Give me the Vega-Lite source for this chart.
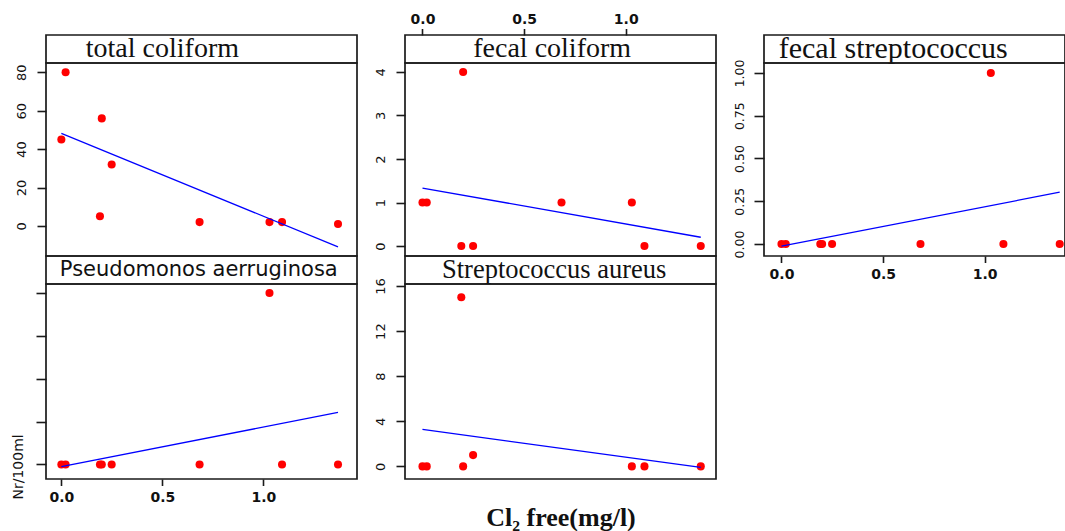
{
  "$schema": "https://vega.github.io/schema/vega-lite/v6.json",
  "background": "white",
  "autosize": {"type": "pad"},
  "padding": {"left": 10, "top": 11, "right": 0, "bottom": 4},
  "config": {
    "font": "DejaVu Sans",
    "view": {"stroke": "#1a1a1a", "strokeWidth": 1.7},
    "axis": {"grid": false, "domain": false, "labelColor": "#111", "tickColor": "#1a1a1a", "tickWidth": 1.6, "titleColor": "#111"}
  },
  "datasets": {
    "obs": [
      {"panel": "total coliform", "cl2": 0, "count": 45},
      {"panel": "total coliform", "cl2": 0.021, "count": 80},
      {"panel": "total coliform", "cl2": 0.191, "count": 5},
      {"panel": "total coliform", "cl2": 0.2, "count": 56},
      {"panel": "total coliform", "cl2": 0.249, "count": 32},
      {"panel": "total coliform", "cl2": 0.684, "count": 2},
      {"panel": "total coliform", "cl2": 1.03, "count": 2},
      {"panel": "total coliform", "cl2": 1.092, "count": 2},
      {"panel": "total coliform", "cl2": 1.369, "count": 1},
      {"panel": "fecal coliform", "cl2": 0, "count": 1},
      {"panel": "fecal coliform", "cl2": 0.021, "count": 1},
      {"panel": "fecal coliform", "cl2": 0.191, "count": 0},
      {"panel": "fecal coliform", "cl2": 0.2, "count": 4},
      {"panel": "fecal coliform", "cl2": 0.249, "count": 0},
      {"panel": "fecal coliform", "cl2": 0.684, "count": 1},
      {"panel": "fecal coliform", "cl2": 1.03, "count": 1},
      {"panel": "fecal coliform", "cl2": 1.092, "count": 0},
      {"panel": "fecal coliform", "cl2": 1.369, "count": 0},
      {"panel": "fecal streptococcus", "cl2": 0, "count": 0},
      {"panel": "fecal streptococcus", "cl2": 0.021, "count": 0},
      {"panel": "fecal streptococcus", "cl2": 0.191, "count": 0},
      {"panel": "fecal streptococcus", "cl2": 0.2, "count": 0},
      {"panel": "fecal streptococcus", "cl2": 0.249, "count": 0},
      {"panel": "fecal streptococcus", "cl2": 0.684, "count": 0},
      {"panel": "fecal streptococcus", "cl2": 1.03, "count": 1},
      {"panel": "fecal streptococcus", "cl2": 1.092, "count": 0},
      {"panel": "fecal streptococcus", "cl2": 1.369, "count": 0},
      {"panel": "Pseudomonos aerruginosa", "cl2": 0, "count": 0},
      {"panel": "Pseudomonos aerruginosa", "cl2": 0.021, "count": 0},
      {"panel": "Pseudomonos aerruginosa", "cl2": 0.191, "count": 0},
      {"panel": "Pseudomonos aerruginosa", "cl2": 0.2, "count": 0},
      {"panel": "Pseudomonos aerruginosa", "cl2": 0.249, "count": 0},
      {"panel": "Pseudomonos aerruginosa", "cl2": 0.684, "count": 0},
      {"panel": "Pseudomonos aerruginosa", "cl2": 1.03, "count": 1},
      {"panel": "Pseudomonos aerruginosa", "cl2": 1.092, "count": 0},
      {"panel": "Pseudomonos aerruginosa", "cl2": 1.369, "count": 0},
      {"panel": "Streptococcus aureus", "cl2": 0, "count": 0},
      {"panel": "Streptococcus aureus", "cl2": 0.021, "count": 0},
      {"panel": "Streptococcus aureus", "cl2": 0.191, "count": 15},
      {"panel": "Streptococcus aureus", "cl2": 0.2, "count": 0},
      {"panel": "Streptococcus aureus", "cl2": 0.249, "count": 1},
      {"panel": "Streptococcus aureus", "cl2": 1.03, "count": 0},
      {"panel": "Streptococcus aureus", "cl2": 1.092, "count": 0},
      {"panel": "Streptococcus aureus", "cl2": 1.369, "count": 0}
    ],
    "strips": [
      {"label": "total coliform"},
      {"label": "fecal coliform"},
      {"label": "fecal streptococcus"},
      {"label": "Pseudomonos aerruginosa"},
      {"label": "Streptococcus aureus"}
    ]
  },
  "columns": 3,
  "align": "each",
  "bounds": "flush",
  "spacing": {"row": 0, "column": 48},
  "concat": [
    {
      "width": 311, "height": 28,
      "data": {"name": "strips"},
      "transform": [{"filter": "datum.label === 'total coliform'"}],
      "mark": {"type": "text", "font": "Liberation Serif", "fontSize": 28, "color": "#111", "baseline": "middle"},
      "encoding": {
        "x": {"datum": 0.5, "type": "quantitative", "scale": {"domain": [-0.076, 1.463], "nice": false, "zero": false}, "axis": null},
        "text": {"field": "label"}
      }
    },
    {
      "width": 311, "height": 28,
      "data": {"name": "strips"},
      "transform": [{"filter": "datum.label === 'fecal coliform'"}],
      "mark": {"type": "text", "font": "Liberation Serif", "fontSize": 28, "color": "#111", "baseline": "middle"},
      "encoding": {
        "x": {"datum": 0.638, "type": "quantitative", "scale": {"domain": [-0.086, 1.444], "nice": false, "zero": false},
          "axis": {"orient": "top", "values": [0, 0.5, 1], "format": ".1f", "title": null, "labelFont": "DejaVu Sans", "labelFontWeight": "bold", "labelFontSize": 14, "tickSize": 6.5, "labelPadding": 2}},
        "text": {"field": "label"}
      }
    },
    {
      "width": 301, "height": 28,
      "data": {"name": "strips"},
      "transform": [{"filter": "datum.label === 'fecal streptococcus'"}],
      "mark": {"type": "text", "font": "Liberation Serif", "fontSize": 30, "color": "#111", "baseline": "middle"},
      "encoding": {
        "x": {"datum": 0.55, "type": "quantitative", "scale": {"domain": [-0.086, 1.395], "nice": false, "zero": false}, "axis": null},
        "text": {"field": "label"}
      }
    },
    {
      "width": 311, "height": 193,
      "data": {"name": "obs"},
      "transform": [{"filter": "datum.panel === 'total coliform'"}],
      "layer": [
        {
          "mark": {"type": "point", "filled": true, "size": 65, "color": "#ff0000", "opacity": 1},
          "encoding": {
            "x": {"field": "cl2", "type": "quantitative", "scale": {"domain": [-0.076, 1.463], "nice": false, "zero": false}, "axis": null},
            "y": {"field": "count", "type": "quantitative", "scale": {"domain": [-15.65, 84.85], "nice": false, "zero": false},
              "axis": {"values": [0, 20, 40, 60, 80], "title": null, "labelAngle": 270, "labelAlign": "center", "labelBaseline": "bottom", "labelFont": "DejaVu Sans", "labelFontSize": 13, "tickSize": 9, "labelPadding": 9}}
          }
        },
        {
          "transform": [{"regression": "count", "on": "cl2"}],
          "mark": {"type": "line", "color": "#0000ff", "strokeWidth": 1.3},
          "encoding": {"x": {"field": "cl2", "type": "quantitative"}, "y": {"field": "count", "type": "quantitative"}}
        }
      ]
    },
    {
      "width": 311, "height": 193,
      "data": {"name": "obs"},
      "transform": [{"filter": "datum.panel === 'fecal coliform'"}],
      "layer": [
        {
          "mark": {"type": "point", "filled": true, "size": 65, "color": "#ff0000", "opacity": 1},
          "encoding": {
            "x": {"field": "cl2", "type": "quantitative", "scale": {"domain": [-0.086, 1.444], "nice": false, "zero": false}, "axis": null},
            "y": {"field": "count", "type": "quantitative", "scale": {"domain": [-0.229, 4.206], "nice": false, "zero": false},
              "axis": {"values": [0, 1, 2, 3, 4], "title": null, "labelAngle": 270, "labelAlign": "center", "labelBaseline": "bottom", "labelFont": "DejaVu Sans", "labelFontSize": 13, "tickSize": 9, "labelPadding": 9}}
          }
        },
        {
          "transform": [{"regression": "count", "on": "cl2"}],
          "mark": {"type": "line", "color": "#0000ff", "strokeWidth": 1.3},
          "encoding": {"x": {"field": "cl2", "type": "quantitative"}, "y": {"field": "count", "type": "quantitative"}}
        }
      ]
    },
    {
      "width": 301, "height": 193,
      "data": {"name": "obs"},
      "transform": [{"filter": "datum.panel === 'fecal streptococcus'"}],
      "layer": [
        {
          "mark": {"type": "point", "filled": true, "size": 65, "color": "#ff0000", "opacity": 1},
          "encoding": {
            "x": {"field": "cl2", "type": "quantitative", "scale": {"domain": [-0.086, 1.395], "nice": false, "zero": false},
              "axis": {"values": [0, 0.5, 1], "format": ".1f", "title": null, "labelFont": "DejaVu Sans", "labelFontWeight": "bold", "labelFontSize": 14, "tickSize": 6.5, "labelPadding": 5}},
            "y": {"field": "count", "type": "quantitative", "scale": {"domain": [-0.07, 1.058], "nice": false, "zero": false},
              "axis": {"values": [0, 0.25, 0.5, 0.75, 1], "format": ".2f", "title": null, "labelAngle": 270, "labelAlign": "center", "labelBaseline": "bottom", "labelFont": "DejaVu Sans", "labelFontSize": 12.5, "tickSize": 10, "labelPadding": 8}}
          }
        },
        {
          "transform": [{"regression": "count", "on": "cl2"}],
          "mark": {"type": "line", "color": "#0000ff", "strokeWidth": 1.3},
          "encoding": {"x": {"field": "cl2", "type": "quantitative"}, "y": {"field": "count", "type": "quantitative"}}
        }
      ]
    },
    {
      "width": 311, "height": 28,
      "data": {"name": "strips"},
      "transform": [{"filter": "datum.label === 'Pseudomonos aerruginosa'"}],
      "mark": {"type": "text", "font": "DejaVu Sans", "fontSize": 21, "color": "#111", "baseline": "middle"},
      "encoding": {
        "x": {"datum": 0.68, "type": "quantitative", "scale": {"domain": [-0.076, 1.463], "nice": false, "zero": false}, "axis": null},
        "text": {"field": "label"}
      }
    },
    {
      "width": 311, "height": 28,
      "data": {"name": "strips"},
      "transform": [{"filter": "datum.label === 'Streptococcus aureus'"}],
      "mark": {"type": "text", "font": "Liberation Serif", "fontSize": 26.5, "color": "#111", "baseline": "middle"},
      "encoding": {
        "x": {"datum": 0.648, "type": "quantitative", "scale": {"domain": [-0.086, 1.444], "nice": false, "zero": false}, "axis": null},
        "text": {"field": "label"}
      }
    },
    {
      "width": 301, "height": 28,
      "view": {"stroke": null},
      "data": {"values": []},
      "mark": "point",
      "encoding": {}
    },
    {
      "width": 311, "height": 195,
      "data": {"name": "obs"},
      "transform": [{"filter": "datum.panel === 'Pseudomonos aerruginosa'"}],
      "layer": [
        {
          "mark": {"type": "point", "filled": true, "size": 65, "color": "#ff0000", "opacity": 1},
          "encoding": {
            "x": {"field": "cl2", "type": "quantitative", "scale": {"domain": [-0.076, 1.463], "nice": false, "zero": false},
              "axis": {"values": [0, 0.5, 1], "format": ".1f", "title": null, "labelFont": "DejaVu Sans", "labelFontWeight": "bold", "labelFontSize": 14, "tickSize": 6.5, "labelPadding": 5}},
            "y": {"field": "count", "type": "quantitative", "scale": {"domain": [-0.085, 1.052], "nice": false, "zero": false},
              "axis": {"values": [0, 0.25, 0.5, 0.75, 1], "labels": false, "tickSize": 10, "title": "Nr/100ml", "titleFont": "DejaVu Sans", "titleFontSize": 14, "titleFontWeight": "normal", "titleAngle": 270, "titleX": -28, "titleY": 215, "titleAlign": "left", "titleBaseline": "middle"}}
          }
        },
        {
          "transform": [{"regression": "count", "on": "cl2"}],
          "mark": {"type": "line", "color": "#0000ff", "strokeWidth": 1.3},
          "encoding": {"x": {"field": "cl2", "type": "quantitative"}, "y": {"field": "count", "type": "quantitative"}}
        }
      ]
    },
    {
      "width": 311, "height": 195,
      "data": {"name": "obs"},
      "transform": [{"filter": "datum.panel === 'Streptococcus aureus'"}],
      "layer": [
        {
          "mark": {"type": "point", "filled": true, "size": 65, "color": "#ff0000", "opacity": 1},
          "encoding": {
            "x": {"field": "cl2", "type": "quantitative", "scale": {"domain": [-0.086, 1.444], "nice": false, "zero": false},
              "axis": {"labels": false, "ticks": false, "title": "Cl₂ free(mg/l)", "titleFont": "Liberation Serif", "titleFontSize": 26, "titleFontWeight": "bold", "titlePadding": 25}},
            "y": {"field": "count", "type": "quantitative", "scale": {"domain": [-1.12, 16.18], "nice": false, "zero": false},
              "axis": {"values": [0, 4, 8, 12, 16], "title": null, "labelAngle": 270, "labelAlign": "center", "labelBaseline": "bottom", "labelFont": "DejaVu Sans", "labelFontSize": 13, "tickSize": 9, "labelPadding": 9}}
          }
        },
        {
          "transform": [{"regression": "count", "on": "cl2"}],
          "mark": {"type": "line", "color": "#0000ff", "strokeWidth": 1.3},
          "encoding": {"x": {"field": "cl2", "type": "quantitative"}, "y": {"field": "count", "type": "quantitative"}}
        }
      ]
    }
  ]
}
